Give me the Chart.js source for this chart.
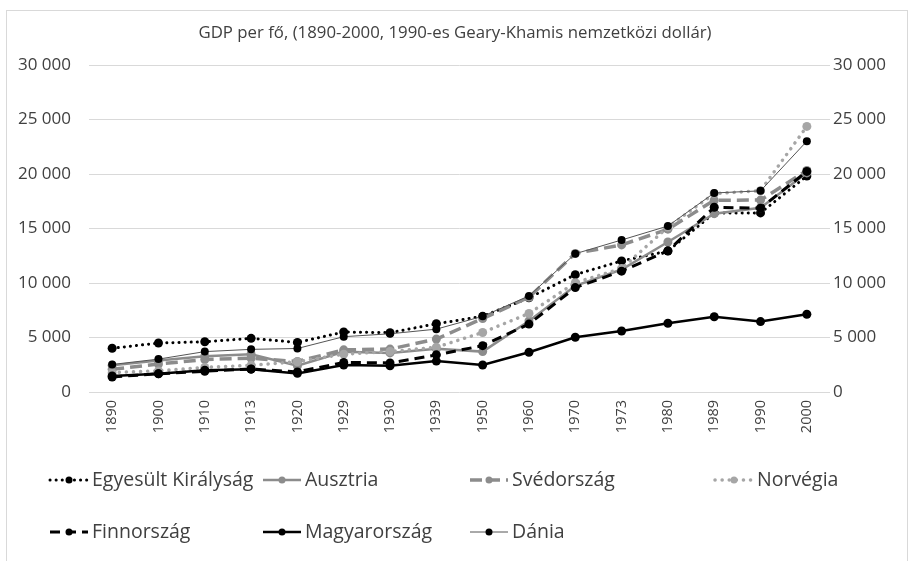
<!DOCTYPE html>
<html>
<head>
    <title>GDP per fő</title>
    <script src="https://cdn.jsdelivr.net/npm/chart.js"></script>
    <style>
        body { margin: 0; background: #fff; }
        #wrap { width: 914px; height: 561px; }
    </style>
</head>
<body>
    <div id="wrap">
        <canvas id="gdpChart" width="914" height="561"></canvas>
    </div>
    <script>
        // years on the category axis
        const years = ['1890', '1900', '1910', '1913', '1920', '1929', '1930', '1939',
                       '1950', '1960', '1970', '1973', '1980', '1989', '1990', '2000'];

        // GDP per capita, 1990 Geary-Khamis dollars
        const ukData      = [4009, 4492, 4611, 4921, 4548, 5503, 5441, 6262, 6939, 8645, 10767, 12025, 12931, 16414, 16430, 19817];
        const austriaData = [2443, 2882, 3290, 3465, 2412, 3699, 3586, 3959, 3706, 6519, 9747, 11235, 13759, 16360, 16905, 20097];
        const swedenData  = [2086, 2561, 2980, 3096, 2802, 3869, 3937, 4857, 6739, 8688, 12716, 13494, 14937, 17593, 17609, 20321];
        const norwayData  = [1777, 1937, 2256, 2447, 2780, 3472, 3712, 4108, 5463, 7208, 10033, 11324, 15129, 18200, 18466, 24364];
        const finlandData = [1381, 1668, 1906, 2111, 1846, 2717, 2666, 3408, 4253, 6230, 9577, 11085, 12949, 16946, 16866, 20235];
        const hungaryData = [1473, 1682, 2000, 2098, 1709, 2476, 2404, 2838, 2480, 3649, 5028, 5596, 6306, 6903, 6459, 7138];
        const denmarkData = [2523, 3017, 3705, 3912, 3992, 5075, 5341, 5766, 6943, 8812, 12686, 13945, 15227, 18261, 18452, 23010];

        const FONT = "'Open Sans', 'Liberation Sans', sans-serif";
        const BLACK = '#000000';
        const GRAY = '#8c8c8c';
        const LIGHT = '#a6a6a6';
        const TEXT = '#404040';

        function fmt(v) {
            return String(v).replace(/\B(?=(\d{3})+(?!\d))/g, ' ');
        }

        function series(label, data, color, width, dash, radius, order, pointColor) {
            return {
                label: label,
                data: data,
                borderColor: color,
                backgroundColor: pointColor || color,
                pointBackgroundColor: pointColor || color,
                pointBorderColor: pointColor || color,
                borderWidth: width,
                borderDash: dash,
                borderCapStyle: dash.length && dash[0] < 1 ? 'round' : 'butt',
                pointRadius: radius,
                pointBorderWidth: 0,
                tension: 0,
                fill: false,
                order: order,
            };
        }

        // legend positions: [x of line start, y]
        const legendSlots = [[50, 480], [263, 480], [470, 480], [715, 480],
                             [50, 532], [263, 532], [470, 532]];

        const frameAndLegend = {
            id: 'frameAndLegend',
            beforeDraw(chart) {
                const ctx = chart.ctx;
                ctx.save();
                ctx.fillStyle = '#fff';
                ctx.fillRect(0, 0, chart.width, chart.height);
                ctx.strokeStyle = '#d9d9d9';
                ctx.lineWidth = 1;
                ctx.strokeRect(6.5, 10.5, 901, 600);
                ctx.restore();
            },
            afterDraw(chart) {
                const ctx = chart.ctx;
                ctx.save();
                ctx.fillStyle = TEXT;
                ctx.font = '16.8px ' + FONT;
                ctx.textAlign = 'center';
                ctx.textBaseline = 'middle';
                ctx.fillText('GDP per fő, (1890-2000, 1990-es Geary-Khamis nemzetközi dollár)', 455, 33);

                chart.data.datasets.forEach((ds, i) => {
                    const [x, y] = legendSlots[i];
                    ctx.strokeStyle = ds.borderColor;
                    ctx.lineWidth = ds.borderWidth;
                    ctx.lineCap = ds.borderCapStyle;
                    ctx.setLineDash(ds.borderDash);
                    ctx.beginPath();
                    ctx.moveTo(x, y);
                    ctx.lineTo(x + 38, y);
                    ctx.stroke();
                    ctx.setLineDash([]);
                    ctx.fillStyle = ds.pointBackgroundColor;
                    ctx.beginPath();
                    ctx.arc(x + 19, y, 3.5, 0, Math.PI * 2);
                    ctx.fill();
                    ctx.fillStyle = TEXT;
                    ctx.font = '19.5px ' + FONT;
                    ctx.textAlign = 'left';
                    ctx.fillText(ds.label, x + 42, y);
                });
                ctx.restore();
            }
        };

        const ctx = document.getElementById('gdpChart').getContext('2d');
        const gdpChart = new Chart(ctx, {
            type: 'line',
            data: {
                labels: years,
                datasets: [
                    series('Egyesült Királyság', ukData, BLACK, 3, [0.1, 6], 4.5, 6),
                    series('Ausztria', austriaData, GRAY, 2.5, [], 4.5, 5),
                    series('Svédország', swedenData, GRAY, 3.5, [12, 6], 4.5, 4),
                    series('Norvégia', norwayData, LIGHT, 3.5, [0.1, 7], 4.5, 3),
                    series('Finnország', finlandData, BLACK, 3, [10, 6], 4.5, 2),
                    series('Magyarország', hungaryData, BLACK, 2.5, [], 4.5, 1),
                    series('Dánia', denmarkData, '#555555', 1, [], 4, 0, BLACK),
                ],
            },
            options: {
                responsive: false,
                animation: false,
                layout: {
                    padding: { top: 65, left: 6, right: 6, bottom: 109 },
                },
                plugins: {
                    legend: { display: false },
                    title: { display: false },
                    tooltip: { enabled: false },
                },
                scales: {
                    x: {
                        offset: true,
                        grid: { display: false, drawTicks: false },
                        border: { display: false },
                        ticks: {
                            color: TEXT,
                            font: { family: FONT, size: 14.5 },
                            minRotation: 90,
                            maxRotation: 90,
                            padding: 8,
                            autoSkip: false,
                        },
                        afterFit(scale) { scale.height = 60; },
                    },
                    y: {
                        position: 'left',
                        min: 0,
                        max: 30000,
                        grid: { color: '#d9d9d9', lineWidth: 1, drawTicks: false },
                        border: { display: false },
                        ticks: {
                            stepSize: 5000,
                            color: TEXT,
                            font: { family: FONT, size: 17 },
                            padding: 18,
                            callback: v => fmt(v),
                        },
                        afterFit(scale) { scale.width = 83; },
                    },
                    y2: {
                        position: 'right',
                        min: 0,
                        max: 30000,
                        grid: { display: false, drawTicks: false },
                        border: { display: false },
                        ticks: {
                            stepSize: 5000,
                            color: TEXT,
                            font: { family: FONT, size: 17 },
                            padding: 3,
                            callback: v => fmt(v),
                        },
                        afterFit(scale) { scale.width = 78; },
                    },
                },
            },
            plugins: [frameAndLegend],
        });
    </script>
</body>
</html>
